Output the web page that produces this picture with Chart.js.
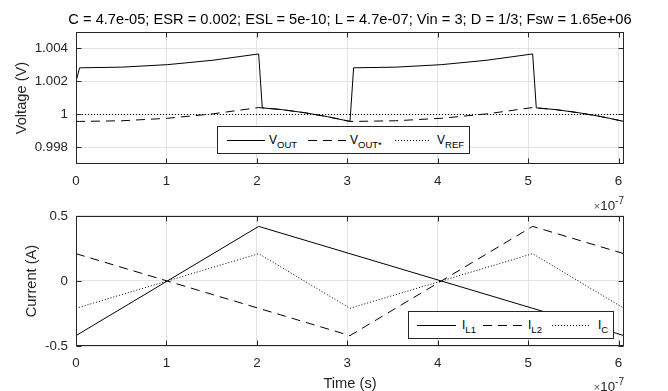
<!DOCTYPE html>
<html>
<head>
<meta charset="utf-8">
<script src="https://cdn.jsdelivr.net/npm/chart.js@4.4.1/dist/chart.umd.min.js"></script>
<style>
html,body{margin:0;padding:0;background:#fff;}
#wrap{position:relative;width:668px;height:391px;overflow:hidden;font-family:"Liberation Sans",Arial,Helvetica,sans-serif;color:#262626;}
.cbox{position:absolute;left:0;width:668px;}
#topBox{top:0;height:200px;}
#botBox{top:200px;height:191px;}
#title{position:absolute;left:0;width:700px;top:11px;text-align:center;font-size:14.67px;line-height:16px;color:#000;white-space:nowrap;}
.exp{position:absolute;right:44px;font-size:13.33px;line-height:14px;white-space:nowrap;color:#262626;}
.exp .x{font-size:11px;color:#555;}
.exp sup{font-size:10px;vertical-align:6px;line-height:0;}
.legend{position:absolute;background:#fff;border:1px solid #262626;box-sizing:border-box;}
.legend svg{position:absolute;top:12px;}
.legend .t{position:absolute;top:7px;font-size:12px;line-height:13px;color:#000;white-space:nowrap;}
.legend sub{font-size:9.5px;vertical-align:-4px;line-height:0;}
</style>
</head>
<body>
<div id="wrap">
  <div class="cbox" id="topBox"><canvas id="cTop" width="668" height="200"></canvas></div>
  <div class="cbox" id="botBox"><canvas id="cBot" width="668" height="191"></canvas></div>
  <div id="title">C = 4.7e-05; ESR = 0.002; ESL = 5e-10; L = 4.7e-07; Vin = 3; D = 1/3; Fsw = 1.65e+06</div>
  <div class="exp" style="top:199px;"><span class="x">×</span>10<sup>-7</sup></div>
  <div class="exp" style="top:380px;"><span class="x">×</span>10<sup>-7</sup></div>

  <div class="legend" style="left:217px;top:126px;width:253px;height:28px;">
    <svg width="38" height="3" style="left:9px"><line x1="0" y1="1.5" x2="38" y2="1.5" stroke="#000" stroke-width="1"/></svg>
    <span class="t" style="left:51px">V<sub>OUT</sub></span>
    <svg width="38" height="3" style="left:90px"><line x1="0" y1="1.5" x2="38" y2="1.5" stroke="#000" stroke-width="1" stroke-dasharray="9 6"/></svg>
    <span class="t" style="left:132px">V<sub>OUT*</sub></span>
    <svg width="36" height="3" style="left:177px"><line x1="0" y1="1.5" x2="36" y2="1.5" stroke="#000" stroke-width="1" stroke-dasharray="1 2"/></svg>
    <span class="t" style="left:219px">V<sub>REF</sub></span>
  </div>

  <div class="legend" style="left:408px;top:311px;width:206px;height:28px;">
    <svg width="39" height="3" style="left:8px"><line x1="0" y1="1.5" x2="39" y2="1.5" stroke="#000" stroke-width="1"/></svg>
    <span class="t" style="left:53px">I<sub>L1</sub></span>
    <svg width="40" height="3" style="left:74px"><line x1="0" y1="1.5" x2="40" y2="1.5" stroke="#000" stroke-width="1" stroke-dasharray="9 6"/></svg>
    <span class="t" style="left:119px">I<sub>L2</sub></span>
    <svg width="37" height="3" style="left:143px"><line x1="0" y1="1.5" x2="37" y2="1.5" stroke="#000" stroke-width="1" stroke-dasharray="1 2"/></svg>
    <span class="t" style="left:189px">I<sub>C</sub></span>
  </div>
</div>
<script>
// ---- Data (time in units of 1e-7 s) ----
const vTime    = [0, 0.04, 0.505, 1.01, 1.515, 2.02, 2.06, 2.27, 2.525, 2.78, 3.03,
                  3.07, 3.535, 4.04, 4.545, 5.05, 5.09, 5.30, 5.555, 5.81, 6.06];
const vOut     = [1.0020, 1.00283, 1.00287, 1.00302, 1.00329, 1.00367, 1.00040, 1.00030, 1.00011, 0.99987, 0.99958,
                  1.00283, 1.00287, 1.00302, 1.00329, 1.00367, 1.00040, 1.00030, 1.00011, 0.99987, 0.99958];
const vOutStar = [0.99958, 0.99958, 0.99962, 0.99977, 1.00004, 1.00042, 1.00040, 1.00030, 1.00011, 0.99987, 0.99958,
                  0.99958, 0.99962, 0.99977, 1.00004, 1.00042, 1.00040, 1.00030, 1.00011, 0.99987, 0.99958];
const vRefTime = [0, 6.06];
const vRef     = [1, 1];

const iTime = [0, 2.02, 3.03, 5.05, 6.06];
const iL1   = [-0.42, 0.42, 0.21, -0.21, -0.42];
const iL2   = [0.21, -0.21, -0.42, 0.42, 0.21];
const iC    = [-0.21, 0.21, -0.21, 0.21, -0.21];

const xTicks = [0, 1, 2, 3, 4, 5, 6];
const vTicks = [0.998, 1, 1.002, 1.004];
const iTicks = [-0.5, 0, 0.5];

const xRange = [0, 6.06];
const vRange = [0.997, 1.005];
const iRange = [-0.5, 0.5];

// ---- helpers ----
const pts = (xs, ys) => xs.map((x, i) => ({x: x, y: ys[i]}));
const FONT = '"Liberation Sans", Arial, Helvetica, sans-serif';
Chart.defaults.font.family = FONT;
Chart.defaults.font.size = 13.33;
Chart.defaults.color = '#262626';

const boxPlugin = {
  id: 'matlabBox',
  afterDatasetsDraw(chart) {
    const {ctx, chartArea: a, scales: {x, y}} = chart;
    ctx.save();
    ctx.strokeStyle = '#262626';
    ctx.lineWidth = 1;
    const L = Math.round(a.left) + 0.5, R = Math.round(a.right) - 0.5;
    const T = Math.round(a.top) + 0.5, B = Math.round(a.bottom) - 0.5;
    ctx.strokeRect(L, T, R - L, B - T);
    ctx.beginPath();
    x.ticks.forEach(t => {
      const p = Math.round(x.getPixelForValue(t.value)) + 0.5;
      ctx.moveTo(p, B); ctx.lineTo(p, B - 5);
      ctx.moveTo(p, T); ctx.lineTo(p, T + 5);
    });
    y.ticks.forEach(t => {
      const p = Math.round(y.getPixelForValue(t.value)) + 0.5;
      ctx.moveTo(L, p); ctx.lineTo(L + 5, p);
      ctx.moveTo(R, p); ctx.lineTo(R - 5, p);
    });
    ctx.stroke();
    ctx.restore();
  }
};

function lineDs(data, dash) {
  return {data: data, borderColor: '#000', borderWidth: 1, borderDash: dash,
          pointRadius: 0, fill: false, tension: 0};
}

function makeChart(id, datasets, yRange, yTicks, yTitle, yTitlePad, padTop, xHeight, showXTitle) {
  return new Chart(document.getElementById(id), {
    type: 'line',
    data: {datasets: datasets},
    plugins: [boxPlugin],
    options: {
      responsive: false, animation: false, devicePixelRatio: 1,
      layout: {padding: {top: padTop, right: 44, bottom: 0, left: 0}},
      plugins: {legend: {display: false}, tooltip: {enabled: false}, title: {display: false}},
      scales: {
        x: {
          type: 'linear', min: xRange[0], max: xRange[1],
          afterBuildTicks: s => { s.ticks = xTicks.map(v => ({value: v})); },
          afterFit: s => { s.height = xHeight; },
          grid: {color: '#e3e3e3', drawTicks: false},
          border: {display: false},
          ticks: {padding: 9, maxRotation: 0, autoSkip: false, font: {size: 13.33},
                  callback: v => String(v)},
          title: {display: showXTitle, text: 'Time (s)', color: '#262626',
                  font: {size: 14.67, lineHeight: 1}, padding: {top: 0, bottom: 0}}
        },
        y: {
          type: 'linear', min: yRange[0], max: yRange[1],
          afterBuildTicks: s => { s.ticks = yTicks.map(v => ({value: v})); },
          afterFit: s => { s.width = 76; },
          grid: {color: '#e3e3e3', drawTicks: false},
          border: {display: false},
          ticks: {padding: 8, font: {size: 13.33},
                  callback: v => String(parseFloat(Number(v).toFixed(4)))},
          title: {display: true, text: yTitle, color: '#262626',
                  font: {size: 14.67, lineHeight: 1}, padding: {top: yTitlePad, bottom: 0}}
        }
      }
    }
  });
}

makeChart('cTop', [
  lineDs(pts(vTime, vOut), []),
  lineDs(pts(vTime, vOutStar), [9, 6]),
  lineDs(pts(vRefTime, vRef), [1, 2])
], vRange, vTicks, 'Voltage (V)', 15, 32, 36, false);

makeChart('cBot', [
  lineDs(pts(iTime, iL1), []),
  lineDs(pts(iTime, iL2), [9, 6]),
  lineDs(pts(iTime, iC), [1, 2])
], iRange, iTicks, 'Current (A)', 25, 15, 45, true);
</script>
</body>
</html>
